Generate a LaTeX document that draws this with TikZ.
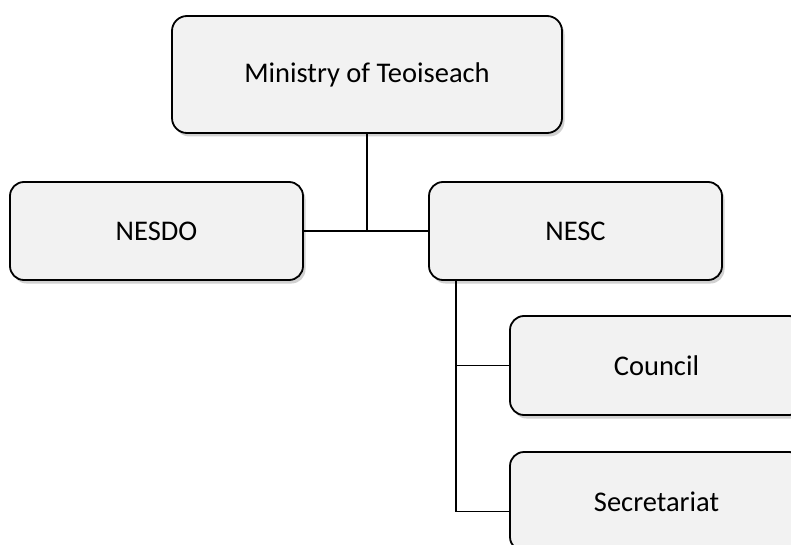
\documentclass[tikz,border=0pt]{standalone}
\usepackage{fontspec}
\setmainfont{Carlito}
\usetikzlibrary{shadows}
\begin{document}
\begin{tikzpicture}[x=1pt,y=-1pt,
  orgbox/.style={draw=black, line width=1.8pt, fill=boxfill, rounded corners=14pt,
    minimum width=293pt, minimum height=98pt, inner sep=0pt, font=\fontsize{28.5}{32}\selectfont,
    drop shadow={shadow xshift=2.5pt, shadow yshift=-3.5pt, opacity=0.3, fill=black!60}},
  link/.style={draw=black, line width=1.8pt}]
\definecolor{boxfill}{HTML}{F2F2F2}
\useasboundingbox (0,0) rectangle (791,545);
\clip (0,0) rectangle (791,545);
\node[orgbox, minimum width=390pt, minimum height=117pt, rounded corners=15pt] (min) at (367,74.5) {\raisebox{-2pt}{Ministry of Teoiseach}};
\node[orgbox] (nesdo) at (156.5,231) {\raisebox{-2pt}{NESDO}};
\node[orgbox] (nesc) at (575.5,231) {\raisebox{-2pt}{NESC}};
\node[orgbox, minimum height=99pt] (council) at (656.5,365.5) {\raisebox{-2pt}{Council}};
\node[orgbox, minimum height=99pt] (sec) at (656.5,501.5) {\raisebox{-2pt}{Secretariat}};
\draw[link] (nesdo.east) -- (nesc.west);
\draw[link] (min.south) -- (min.south |- nesdo.east);
\coordinate (trunk) at ([xshift=28pt]nesc.south west);
\coordinate (secin) at ([yshift=-10pt]sec.west);
\draw[link] (trunk) |- (secin);
\draw[link] (trunk |- council.west) -- (council.west);
\end{tikzpicture}
\end{document}
